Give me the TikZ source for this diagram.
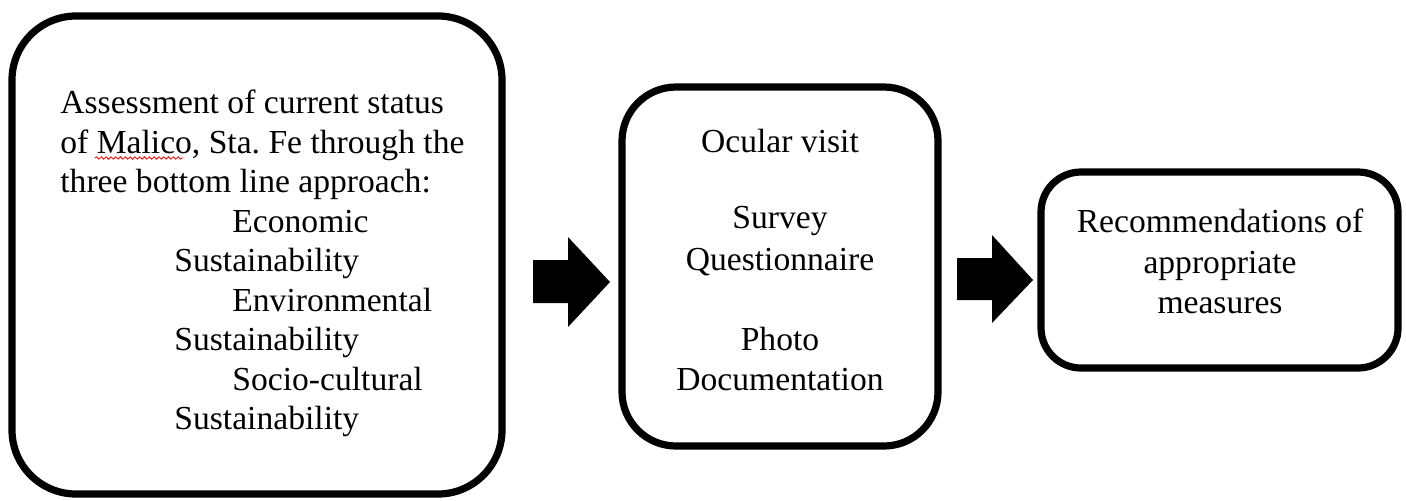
\documentclass[tikz,border=0pt]{standalone}
\usepackage{fontspec}
\setmainfont{Liberation Serif}
\usetikzlibrary{decorations.pathmorphing}
\frenchspacing
\begin{document}
\begin{tikzpicture}[x=0.5pt,y=-0.5pt,
  box/.style={draw=black,line width=3.6pt,fill=white,inner sep=0pt},
  txt/.style={inner sep=0pt,font=\fontsize{16.8pt}{19.8pt}\selectfont},
  blockarrow/.style={fill=black}]
\useasboundingbox[fill=white] (0,0) rectangle (1406,500);
% boxes
\node[box,rounded corners=32pt,minimum width=245pt,minimum height=239pt] (assess) at (257,255) {};
\node[box,rounded corners=27pt,minimum width=158pt,minimum height=179.5pt] (methods) at (780,266.5) {};
\node[box,rounded corners=20pt,minimum width=178.5pt,minimum height=98pt] (recom) at (1219.5,270) {};
% left text
\node[txt,anchor=base west] (a1) at (60,113) {Assessment of current status};
\node[txt,anchor=base west] (a2) at (60,153) {of Malico, Sta. Fe through the};
\node[txt,anchor=base west] (a3) at (60,192) {three bottom line approach:};
\node[txt,anchor=base west] (a4) at (232,232) {Economic};
\node[txt,anchor=base west] (a5) at (174,271) {Sustainability};
\node[txt,anchor=base west] (a6) at (232,311) {Environmental};
\node[txt,anchor=base west] (a7) at (174,350) {Sustainability};
\node[txt,anchor=base west] (a8) at (232,390) {Socio-cultural};
\node[txt,anchor=base west] (a9) at (174,429) {Sustainability};
\coordinate (w1) at (95,158);
\coordinate (w2) at (183,158);
\draw[red,line width=0.4pt,decorate,decoration={snake,amplitude=0.6pt,segment length=2.4pt}] (w1) -- (w2);
% middle text
\node[txt,anchor=base] (m1) at (780,152) {Ocular visit};
\node[txt,anchor=base] (m2) at (780,228) {Survey};
\node[txt,anchor=base] (m3) at (780,270) {Questionnaire};
\node[txt,anchor=base] (m4) at (780,350) {Photo};
\node[txt,anchor=base] (m5) at (780,390) {Documentation};
% right text
\node[txt,anchor=base] (r1) at (1220,232) {Recommendations of};
\node[txt,anchor=base] (r2) at (1220,273) {appropriate};
\node[txt,anchor=base] (r3) at (1220,313) {measures};
% block arrows
\fill[blockarrow] (533,260) -- (568,260) -- (568,237) -- (610,282) -- (568,327) -- (568,303) -- (533,303) -- cycle;
\fill[blockarrow] (957,258) -- (992,258) -- (992,235) -- (1033,280) -- (992,323) -- (992,300) -- (957,300) -- cycle;
\end{tikzpicture}
\end{document}
